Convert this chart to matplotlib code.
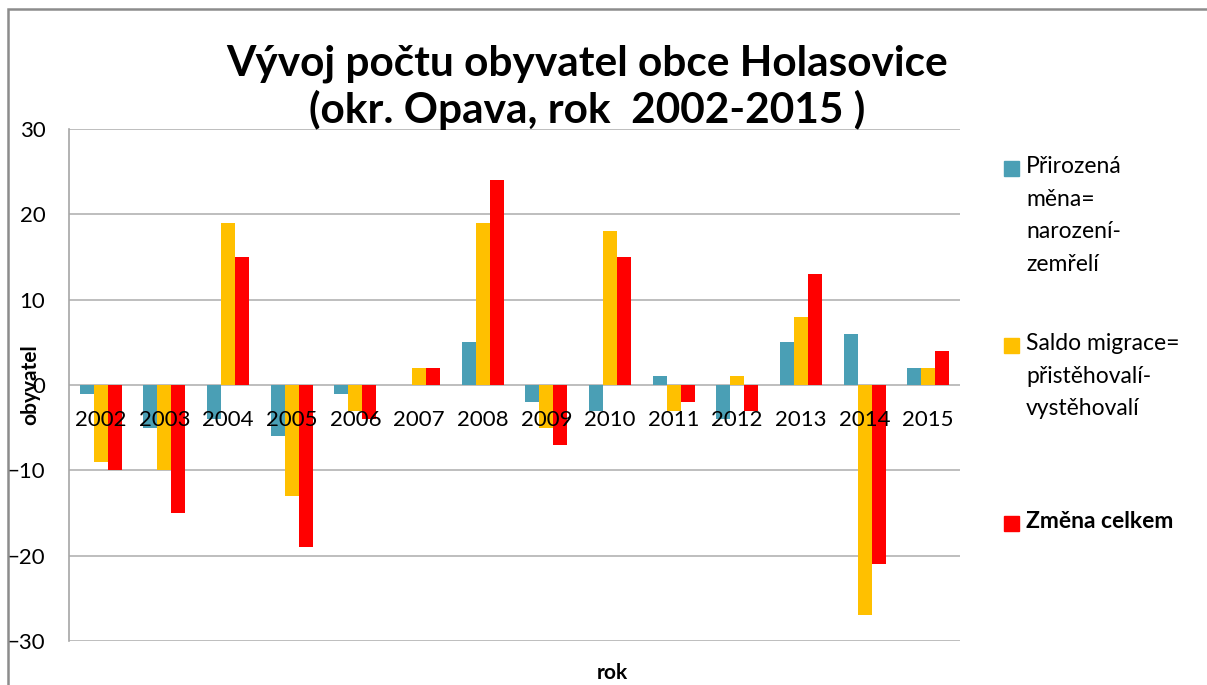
import matplotlib

matplotlib.use("Agg")
import matplotlib.pyplot as plt
import numpy as np
from matplotlib.patches import Rectangle

YEARS = ["2002", "2003", "2004", "2005", "2006", "2007", "2008",
         "2009", "2010", "2011", "2012", "2013", "2014", "2015"]
NATURAL = [-1, -5, -4, -6, -1, 0, 5, -2, -3, 1, -4, 5, 6, 2]
MIGRATION = [-9, -10, 19, -13, -3, 2, 19, -5, 18, -3, 1, 8, -27, 2]
TOTAL = [-10, -15, 15, -19, -4, 2, 24, -7, 15, -2, -3, 13, -21, 4]

SERIES = [
    ("Přirozená\nměna=\nnarození-\nzemřelí", NATURAL, "#4A9FB5", "normal"),
    ("Saldo migrace=\npřistěhovalí-\nvystěhovalí", MIGRATION, "#FFC000", "normal"),
    ("Změna celkem", TOTAL, "#FF0000", "bold"),
]

TITLE = "Vývoj počtu obyvatel obce Holasovice\n(okr. Opava, rok  2002-2015 )"
GRID = "#b3b3b3"

plt.rcParams["font.family"] = ["Lato", "DejaVu Sans"]

W, H = 1207, 685
fig = plt.figure(figsize=(W / 100, H / 100), dpi=100)
ax = fig.add_axes([69 / W, 1 - 641 / H, 891 / W, 512 / H])

x = np.arange(len(YEARS))
bw = 0.22
for i, (label, vals, color, _) in enumerate(SERIES):
    ax.bar(x + (i - 1) * bw, vals, bw, color=color, zorder=2)

ax.set_xlim(-0.5, len(YEARS) - 0.5)
ax.set_ylim(-30, 30)
ax.set_yticks(range(-30, 31, 10))
ax.set_xticks([])
ax.tick_params(axis="y", length=0, pad=17, labelsize=16)
ax.set_axisbelow(True)
ax.grid(True, axis="y", color=GRID, linewidth=1.2)
for s in ["top", "right", "bottom"]:
    ax.spines[s].set_visible(False)
ax.spines["left"].set_color("#a6a6a6")
ax.spines["left"].set_linewidth(1.2)

# category labels sit just under the zero line, over the bars
for xi, yr in zip(x, YEARS):
    ax.annotate(yr, xy=(xi, 0), xytext=(0, -18), textcoords="offset points",
                ha="center", va="top", fontsize=16, zorder=5)

fig.text(30 / W, 1 - 385 / H, "obyvatel", rotation=90, ha="center", va="center",
         fontsize=15, fontweight="bold")
fig.text(612 / W, 1 - 673 / H, "rok", ha="center", va="center",
         fontsize=15, fontweight="bold")

fig.text(587 / W, 1 - 87 / H, TITLE, ha="center", va="center", fontsize=30.5,
         fontweight="bold", linespacing=1.22)

# legend on the right, marker next to first line of each entry
leg_y = [168, 345, 523]
for (label, _, color, weight), y in zip(SERIES, leg_y):
    fig.add_artist(Rectangle((1004 / W, 1 - (y + 7.5) / H), 15 / W, 15 / H,
                             transform=fig.transFigure, color=color))
    fig.text(1026 / W, 1 - (y - 12) / H, label, ha="left", va="top",
             fontsize=16.5, fontweight=weight, linespacing=1.68)

# chart area border (only left/top edges fall inside the picture)
fig.add_artist(Rectangle((8 / W, -0.1), 1.2, 1.1 - 9 / H, transform=fig.transFigure,
                         fill=False, edgecolor="#8c8c8c", linewidth=1.8))

fig.savefig("out.png", dpi=100)
